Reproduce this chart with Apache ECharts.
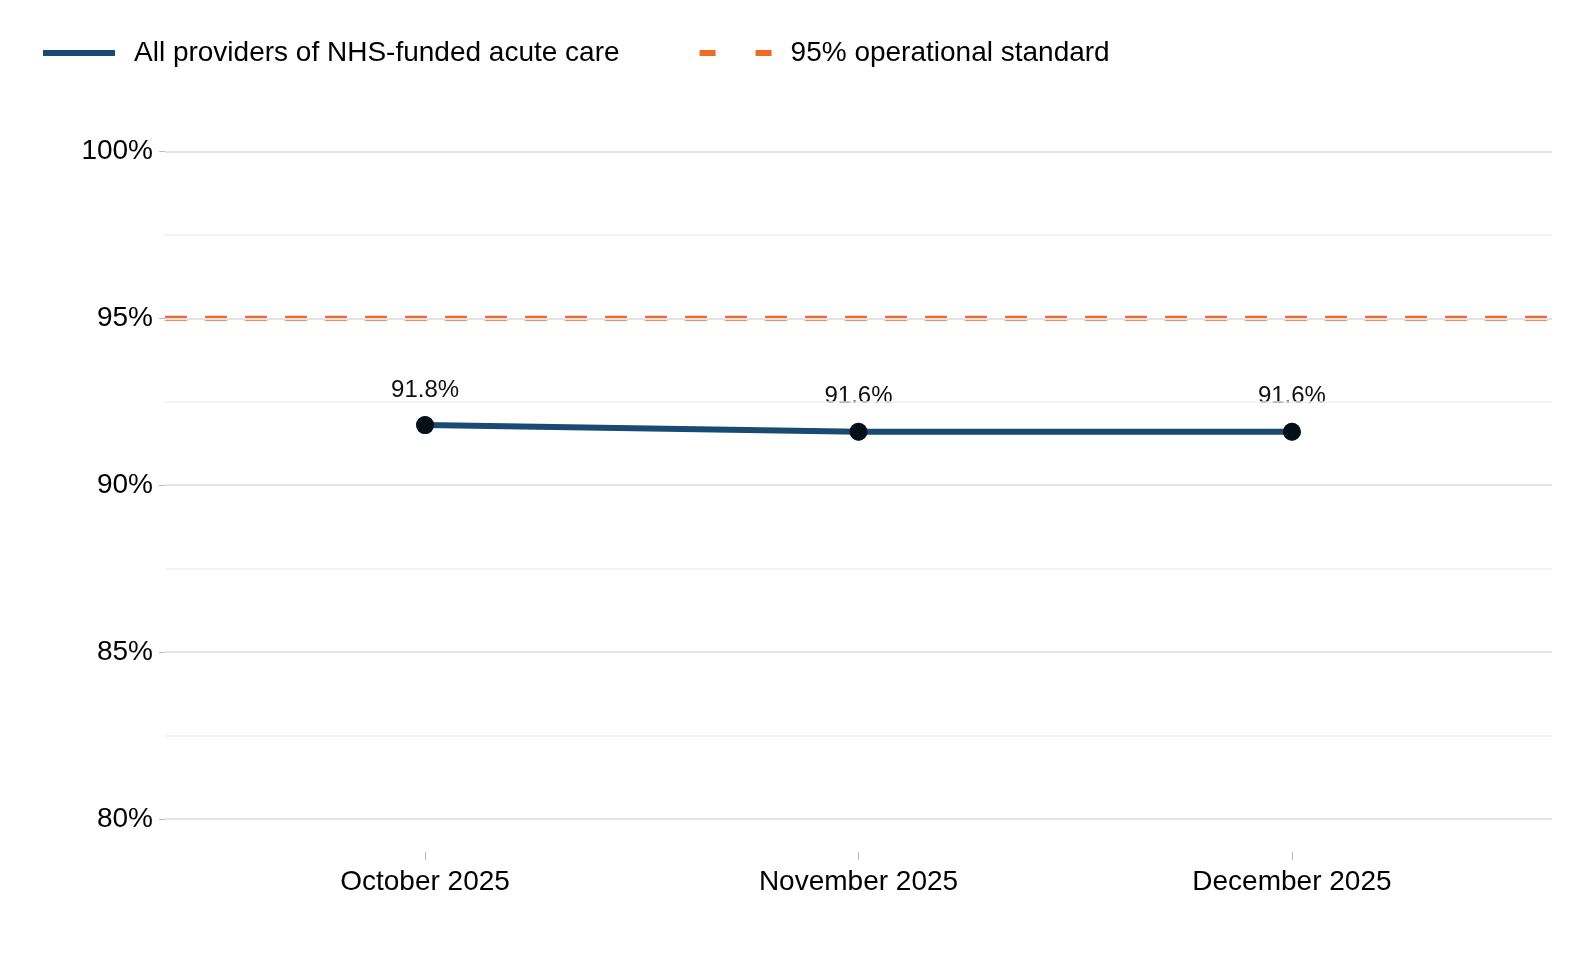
<!DOCTYPE html>
<html><head><meta charset="utf-8">
<script src="https://cdn.jsdelivr.net/npm/echarts@6/dist/echarts.min.js"></script>
<style>html,body{margin:0;background:#fff}#c{width:1574px;height:960px}</style>
</head><body><div id="c"></div>
<script>
const categories = ["October 2025", "November 2025", "December 2025"];
const providerValues = [91.8, 91.6, 91.6];
const standardValue = 95;
const majorTicks = [80, 85, 90, 95, 100];
const minorTicks = [82.5, 87.5, 92.5, 97.5];

const chart = echarts.init(document.getElementById('c'));
const font = 'Liberation Sans, Arial, sans-serif';
chart.setOption({
  animation: false,
  textStyle: { fontFamily: font },
  legend: {
    top: 34, left: 38, itemGap: 80, itemWidth: 72, itemHeight: 6,
    textStyle: { fontSize: 28, color: '#000', fontFamily: font, padding: [0, 0, 0, 14] },
    data: [
      { name: 'All providers of NHS-funded acute care', icon: 'rect' },
      { name: '95% operational standard', icon: 'path://M0,0H16V6H0Z M56,0H72V6H56Z' }
    ]
  },
  grid: { left: 165, right: 22, top: 118, bottom: 108 },
  xAxis: {
    type: 'value', min: 0.4, max: 3.6,
    axisLine: { show: false },
    axisTick: { show: true, length: 8, customValues: [1, 2, 3], lineStyle: { color: '#bbb' } },
    splitLine: { show: false },
    axisLabel: { fontSize: 28, color: '#000', margin: 16, fontFamily: font, customValues: [1, 2, 3],
      formatter: v => categories[Math.round(v) - 1] || '' }
  },
  yAxis: {
    type: 'value', min: 79.01, max: 101,
    axisLine: { show: false },
    axisTick: { show: true, length: 6, customValues: majorTicks, lineStyle: { color: '#bbb' } },
    splitLine: { show: false },
    axisLabel: { fontSize: 28, color: '#000', margin: 12, fontFamily: font, customValues: majorTicks,
      formatter: v => v + '%' }
  },
  series: [
    {
      name: 'grid', type: 'line', data: [], silent: true,
      markLine: { silent: true, symbol: 'none', label: { show: false },
        data: majorTicks.map(v => ({ yAxis: v, lineStyle: { color: '#e3e3e3', width: 2, type: 'solid' } }))
          .concat(minorTicks.map(v => ({ yAxis: v, lineStyle: { color: '#efefef', width: 1.5, type: 'solid' } }))) }
    },
    {
      name: '95% operational standard', type: 'line', symbol: 'none',
      data: [[0.4, standardValue], [3.6, standardValue]],
      lineStyle: { color: '#F06A23', width: 5, type: [22, 18] },
      itemStyle: { color: '#F06A23' }, z: 3
    },
    {
      name: 'All providers of NHS-funded acute care', type: 'line',
      data: providerValues.map((v, i) => [i + 1, v]),
      lineStyle: { color: '#184A72', width: 6 },
      itemStyle: { color: '#184A72' },
      symbol: 'circle', symbolSize: 18,
      label: { show: true, position: 'top', distance: 14, fontSize: 24, color: '#111',
        formatter: p => p.value[1].toFixed(1) + '%' },
      emphasis: { disabled: true }, z: 4
    },
    {
      name: 'dots', type: 'scatter',
      data: providerValues.map((v, i) => [i + 1, v]),
      symbolSize: 18, itemStyle: { color: '#000' }, z: 5, silent: true
    }
  ]
});
</script></body></html>
